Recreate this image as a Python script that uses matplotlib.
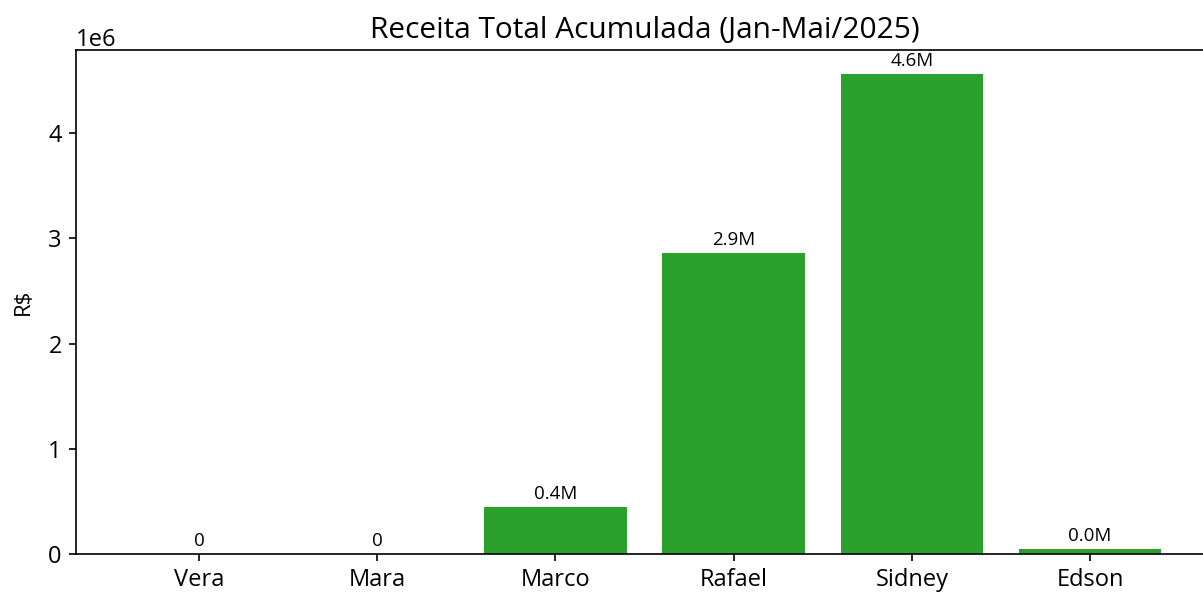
import numpy as np
import matplotlib.pyplot as plt

plt.rcParams['font.family'] = ['Open Sans', 'DejaVu Sans']

vendedores = ['Vera', 'Mara', 'Marco', 'Rafael', 'Sidney', 'Edson']
receita = [0, 0, 448000, 2857000, 4562000, 48000]

fig = plt.figure(figsize=(12.03, 5.92), dpi=100)
ax = fig.add_axes([0.0632, 0.0642, 0.9451, 0.8513])

x = np.arange(len(vendedores))
bars = ax.bar(x, receita, color='#2ca02c', width=0.8)
ax.set_xticks(x)
ax.set_xticklabels(vendedores)
ax.tick_params(labelsize=17, length=5.25, width=1.2, pad=5)
for s in ax.spines.values():
    s.set_linewidth(1.2)

for rect, v in zip(bars, receita):
    txt = '0' if v == 0 else f'{v / 1e6:.1f}M'
    ax.annotate(txt, (rect.get_x() + rect.get_width() / 2, rect.get_height()),
                xytext=(0, 3), textcoords='offset points',
                ha='center', va='bottom', fontsize=13.5)

ax.set_title('Receita Total Acumulada (Jan-Mai/2025)', fontsize=21.5, pad=9)
ax.set_ylabel('R$', fontsize=16, labelpad=10)
ax.yaxis.get_offset_text().set_fontsize(17)

fig.savefig('out.png', dpi=100)
